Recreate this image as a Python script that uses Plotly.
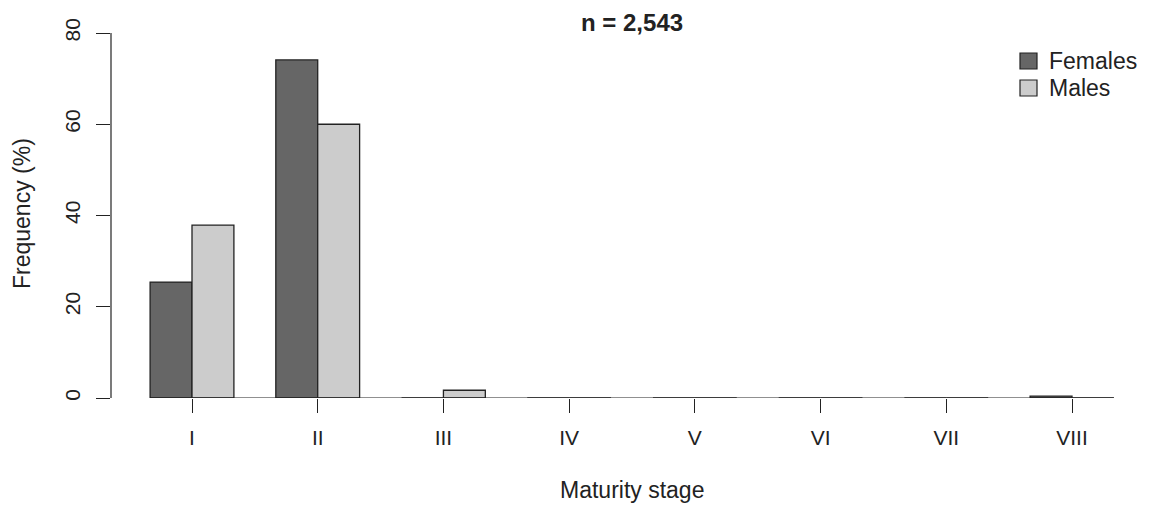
import plotly.graph_objects as go

stages = ["I", "II", "III", "IV", "V", "VI", "VII", "VIII"]
females = [25.4, 74.1, 0.0, 0.0, 0.0, 0.0, 0.0, 0.4]
males = [37.9, 60.0, 1.7, 0.0, 0.0, 0.0, 0.0, 0.0]
series_names = ["Females", "Males"]
series_colors = ["#666666", "#CCCCCC"]
y_ticks = [0, 20, 40, 60, 80]
title_text = "n = 2,543"
x_title = "Maturity stage"
y_title = "Frequency (%)"

FONT = "Liberation Sans, Arial, sans-serif"
W, H = 1149, 509
L, R, T, B = 111, 10, 18, 111
pw = W - L - R
ph = H - T - B
px_per_cat = (1072 - 192) / 7.0
x0 = -(192 - L) / px_per_cat
x1 = x0 + pw / px_per_cat
px_per_y = (398 - 33) / 80.0
ytop = ph / px_per_y

fig = go.Figure()
for name, vals, col in zip(series_names, [females, males], series_colors):
    fig.add_trace(go.Bar(
        x=stages, y=vals, name=name,
        marker=dict(color=col, line=dict(color="#222222", width=1.3)),
        showlegend=False,
    ))

fig.update_layout(
    width=W, height=H,
    margin=dict(l=L, r=R, t=T, b=B),
    paper_bgcolor="white", plot_bgcolor="white",
    barmode="group", bargap=1/3, bargroupgap=0,
    font=dict(family=FONT, size=23, color="#222222"),
    xaxis=dict(
        type="category", range=[x0, x1], showgrid=False, zeroline=False,
        showline=False, ticks="outside", ticklen=14, tickwidth=1.2,
        tickcolor="#222222", tickfont=dict(size=21),
        ticklabelstandoff=7,
    ),
    yaxis=dict(
        range=[0, ytop], showgrid=False, zeroline=False, showline=False,
        tickvals=y_ticks, ticks="outside", ticklen=14, tickwidth=1.2,
        tickcolor="#222222", tickangle=-90, tickfont=dict(size=21),
        ticklabelstandoff=8,
    ),
)

# axis lines (R style: only span the ticks / bars)
fig.add_shape(type="line", xref="paper", yref="y", x0=0, x1=0,
              y0=y_ticks[0], y1=y_ticks[-1], line=dict(color="#222222", width=1.2))
fig.add_shape(type="line", xref="x", yref="y", x0=-1/3, x1=len(stages) - 1 + 1/3,
              y0=0, y1=0, line=dict(color="#222222", width=1.2))

cx = (len(stages) - 1) / 2
fig.add_annotation(text="<b>" + title_text + "</b>", xref="x", yref="paper",
                   x=cx, y=(398 - 22) / ph, showarrow=False,
                   font=dict(size=24), xanchor="center", yanchor="middle")
fig.add_annotation(text=x_title, xref="x", yref="paper",
                   x=cx, y=(398 - 490) / ph, showarrow=False,
                   font=dict(size=23), xanchor="center", yanchor="middle")
fig.add_annotation(text=y_title, xref="paper", yref="paper",
                   x=(22 - L) / pw, y=(398 - 214) / ph, textangle=-90,
                   showarrow=False, font=dict(size=23),
                   xanchor="center", yanchor="middle")

# legend
leg_y = [61, 88]
for name, col, py in zip(series_names, series_colors, leg_y):
    fig.add_shape(type="rect", xref="paper", yref="paper",
                  x0=(1020 - L) / pw, x1=(1037 - L) / pw,
                  y0=(398 - py - 8) / ph, y1=(398 - py + 8) / ph,
                  fillcolor=col, line=dict(color="#222222", width=1.2))
    fig.add_annotation(text=name, xref="paper", yref="paper",
                       x=(1047 - L) / pw, y=(398 - py) / ph, showarrow=False,
                       xanchor="left", yanchor="middle", font=dict(size=23))

fig.write_html("out.html", config={"displayModeBar": False},
               post_script="document.body.style.margin='0px';")
